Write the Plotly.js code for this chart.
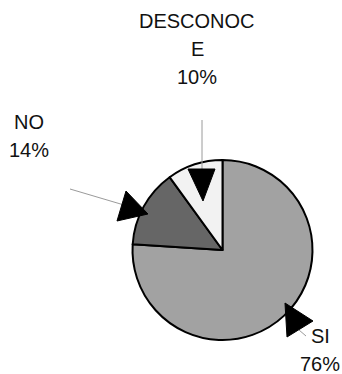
<!DOCTYPE html>
<html>
<head>
<meta charset="utf-8">
<script src="https://cdn.plot.ly/plotly-3.0.1.min.js"></script>
<style>html,body{margin:0;padding:0;background:#fff;}#chart{width:342px;height:374px;}</style>
</head>
<body>
<div id="chart"></div>
<script>
// Data
var labels = ['SI', 'NO', 'DESCONOCE'];
var values = [76, 14, 10];
var colors = ['#a2a2a2', '#666666', '#f2f2f2'];

var W = 342, H = 374;
function px(x, y) { return [x / W, 1 - y / H]; }
function pathPx(pts) {
  return pts.map(function (p, i) {
    var q = px(p[0], p[1]);
    return (i ? 'L' : 'M') + q[0].toFixed(4) + ',' + q[1].toFixed(4);
  }).join(' ') + ' Z';
}
function linePx(x0, y0, x1, y1) {
  var a = px(x0, y0), b = px(x1, y1);
  return {type: 'line', xref: 'paper', yref: 'paper', x0: a[0], y0: a[1], x1: b[0], y1: b[1],
          line: {color: '#9a9a9a', width: 1}};
}
function triPx(pts) {
  return {type: 'path', xref: 'paper', yref: 'paper', path: pathPx(pts),
          fillcolor: '#000000', line: {color: '#000000', width: 1}};
}

var total = values.reduce(function (a, b) { return a + b; }, 0);
function labelLines(i) {
  var l = labels[i], out = [];
  while (l.length > 8) { out.push(l.slice(0, 8)); l = l.slice(8); }
  out.push(l);
  out.push(Math.round(values[i] / total * 100) + '%');
  return out;
}

// centre of first text line (pixels) and line pitch
var labelPos = [[320, 335.5], [29, 122], [197, 21]];
var pitch = 28;

var annotations = [];
labels.forEach(function (l, i) {
  labelLines(i).forEach(function (t, k) {
    var p = px(labelPos[i][0], labelPos[i][1] + k * pitch);
    annotations.push({xref: 'paper', yref: 'paper', x: p[0], y: p[1], xanchor: 'center', yanchor: 'middle',
      text: t, showarrow: false, align: 'center',
      font: {family: 'Liberation Sans, Arial, sans-serif', size: 20, color: '#111111'}});
  });
});

var shapes = [
  linePx(70, 189, 124, 205),
  linePx(202, 120, 202, 172),
  linePx(299, 330, 306, 336),
  triPx([[126, 191], [117, 221], [148, 214]]),
  triPx([[188, 169], [215, 169], [203, 201]]),
  triPx([[285, 303], [313, 321], [287, 337]])
];

var cx = 222.5, cy = 250, r = 90;
var data = [{
  type: 'pie',
  labels: labels,
  values: values,
  sort: false,
  direction: 'clockwise',
  rotation: 0,
  textinfo: 'none',
  hoverinfo: 'label+percent',
  marker: {colors: colors, line: {color: '#000000', width: 2}},
  domain: {x: [(cx - r) / W, (cx + r) / W], y: [(H - cy - r) / H, (H - cy + r) / H]},
  showlegend: false
}];

var layout = {
  width: W, height: H,
  margin: {l: 0, r: 0, t: 0, b: 0},
  paper_bgcolor: '#ffffff',
  showlegend: false,
  annotations: annotations,
  shapes: shapes
};

Plotly.newPlot('chart', data, layout, {displayModeBar: false, staticPlot: true});
</script>
</body>
</html>
